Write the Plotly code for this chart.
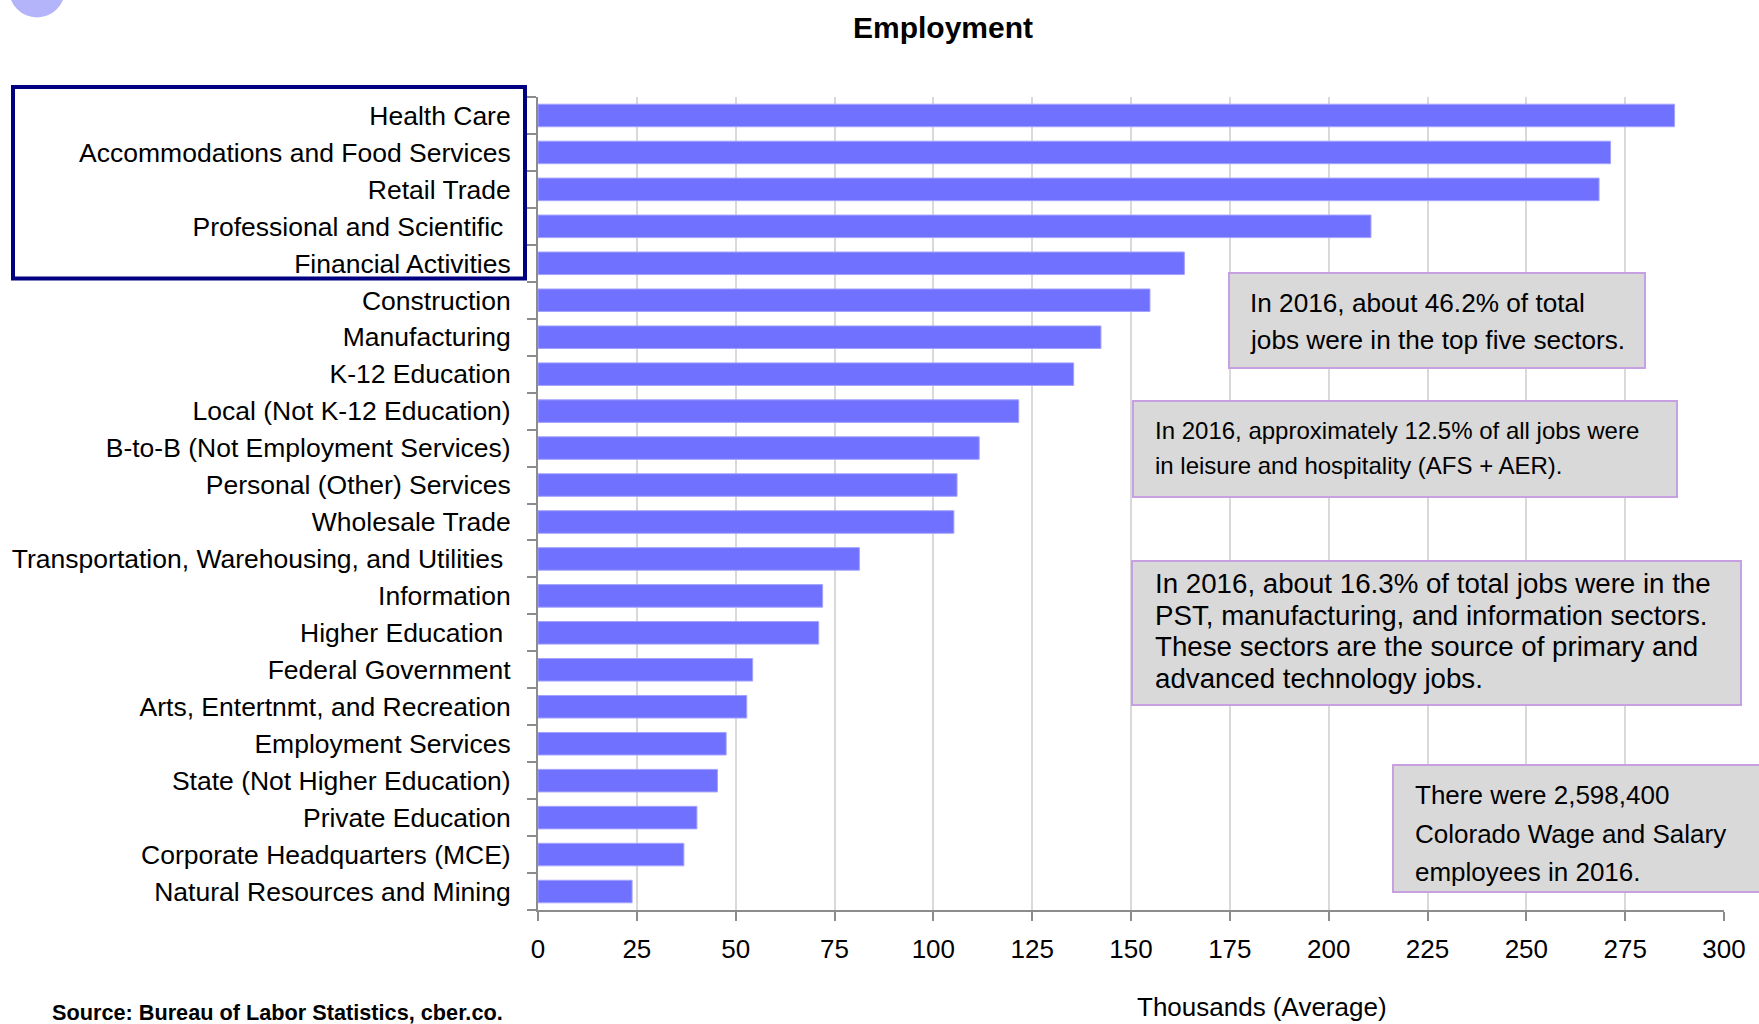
import plotly.graph_objects as go

# ---------------- data ----------------
categories = [
    "Health Care",
    "Accommodations and Food Services",
    "Retail Trade",
    "Professional and Scientific\u00a0",
    "Financial Activities",
    "Construction",
    "Manufacturing",
    "K-12 Education",
    "Local (Not K-12 Education)",
    "B-to-B (Not Employment Services)",
    "Personal (Other) Services",
    "Wholesale Trade",
    "Transportation, Warehousing, and Utilities\u00a0",
    "Information",
    "Higher Education\u00a0",
    "Federal Government",
    "Arts, Entertnmt, and Recreation",
    "Employment Services",
    "State (Not Higher Education)",
    "Private Education",
    "Corporate Headquarters (MCE)",
    "Natural Resources and Mining",
]
employment_thousands = [
    287.5, 271.3, 268.4, 210.7, 163.5, 154.8, 142.4, 135.5, 121.6, 111.6, 106.0,
    105.2, 81.3, 72.0, 71.0, 54.3, 52.8, 47.6, 45.4, 40.2, 36.9, 23.8,
]
x_ticks = [0, 25, 50, 75, 100, 125, 150, 175, 200, 225, 250, 275, 300]

title_text = "Employment"
x_title = "Thousands (Average)"
source_text = "Source: Bureau of Labor Statistics, cber.co."
note1 = ["In 2016, about 46.2% of total", "jobs were in the top five sectors."]
note2 = ["In 2016, approximately 12.5% of all jobs were",
         "in leisure and hospitality (AFS + AER)."]
note3 = ["In 2016, about 16.3% of total jobs were in the",
         "PST, manufacturing, and information sectors.",
         "These sectors are the source of primary and",
         "advanced technology jobs."]
note4 = ["There were 2,598,400", "Colorado Wage and Salary", "employees in 2016."]

# ---------------- layout helpers ----------------
W, H = 1759, 1024
L, R, T, B = 538, 35, 97, 114
PW, PH = W - L - R, H - T - B

def xp(px):
    return (px - L) / PW

def yp(py):
    return (H - B - py) / PH

FONT = "Liberation Sans, Arial, sans-serif"
BAR = "#7171FF"
GRID = "#d9d9d9"
AXIS = "#8c8c8c"
BOXFILL = "#d9d9d9"
BOXLINE = "#c6a0e0"

fig = go.Figure()
fig.add_trace(go.Bar(
    x=employment_thousands, y=categories, orientation="h",
    marker=dict(color=BAR, line=dict(color="#a3a3ff", width=1)),
    hoverinfo="x+y", showlegend=False,
))

shapes = []
annotations = []

# decorative circle top-left
shapes.append(dict(type="circle", xref="paper", yref="paper",
                   x0=xp(9), x1=xp(65), y0=yp(17.5), y1=yp(-38.5),
                   fillcolor="#b4b4fb", line=dict(width=0), layer="above"))

# navy box around top five labels
shapes.append(dict(type="rect", xref="paper", yref="paper",
                   x0=xp(13), x1=xp(525), y0=yp(278.5), y1=yp(87),
                   line=dict(color="#000080", width=4), fillcolor="rgba(0,0,0,0)"))

def note_box(x0, x1, y0, y1, lines, tx, centers, size):
    shapes.append(dict(type="rect", xref="paper", yref="paper",
                       x0=xp(x0), x1=xp(x1), y0=yp(y1), y1=yp(y0),
                       fillcolor=BOXFILL, line=dict(color=BOXLINE, width=2), layer="above"))
    for txt, cy in zip(lines, centers):
        annotations.append(dict(xref="paper", yref="paper", x=xp(tx), y=yp(cy),
                                xanchor="left", yanchor="middle", showarrow=False,
                                text=txt, font=dict(family=FONT, size=size, color="black")))

note_box(1229, 1645, 273, 368, note1, 1248, [303, 340], 26.2)
note_box(1133, 1677, 401, 497, note2, 1153, [430, 465], 24)
note_box(1132, 1741, 561, 705, note3, 1153, [583, 615, 646, 678], 27.7)
note_box(1393, 1790, 765, 892, note4, 1413, [794.5, 834, 872], 26)

# title
annotations.append(dict(xref="paper", yref="paper", x=xp(943), y=yp(27),
                        xanchor="center", yanchor="middle", showarrow=False,
                        text="<b>" + title_text + "</b>",
                        font=dict(family=FONT, size=30, color="black")))
# x-axis title
annotations.append(dict(xref="paper", yref="paper", x=xp(1262), y=yp(1007),
                        xanchor="center", yanchor="middle", showarrow=False,
                        text=x_title, font=dict(family=FONT, size=26, color="black")))
# source
annotations.append(dict(xref="paper", yref="paper", x=xp(50), y=yp(1012),
                        xanchor="left", yanchor="middle", showarrow=False,
                        text="<b>" + source_text + "</b>",
                        font=dict(family=FONT, size=21.7, color="black")))

fig.update_layout(
    width=W, height=H, autosize=False,
    margin=dict(l=L, r=R, t=T, b=B, pad=0),
    paper_bgcolor="white", plot_bgcolor="white",
    bargap=0.39,
    shapes=shapes, annotations=annotations,
    font=dict(family=FONT, color="black"),
)
fig.update_xaxes(
    range=[0, 300], tickmode="array", tickvals=x_ticks, ticktext=[str(v) for v in x_ticks],
    showgrid=True, gridcolor=GRID, gridwidth=1.5, zeroline=False,
    showline=True, linecolor=AXIS, linewidth=2,
    ticks="outside", ticklen=9, tickwidth=1.5, tickcolor=AXIS,
    ticklabelstandoff=6,
    tickfont=dict(family=FONT, size=26, color="black"),
    automargin=False, fixedrange=True,
)
fig.update_yaxes(
    categoryorder="array", categoryarray=categories, autorange="reversed",
    tickmode="array", tickvals=categories,
    showgrid=False, zeroline=False,
    showline=True, linecolor=AXIS, linewidth=2,
    ticks="outside", ticklen=9, tickwidth=1.5, tickcolor=AXIS, tickson="boundaries",
    ticklabelstandoff=20,
    tickfont=dict(family=FONT, size=26.5, color="black"),
    automargin=False, fixedrange=True,
)

fig.write_html(
    "out.html",
    config={"displayModeBar": False},
    post_script="document.body.style.margin='0';document.body.style.overflow='hidden';",
)
